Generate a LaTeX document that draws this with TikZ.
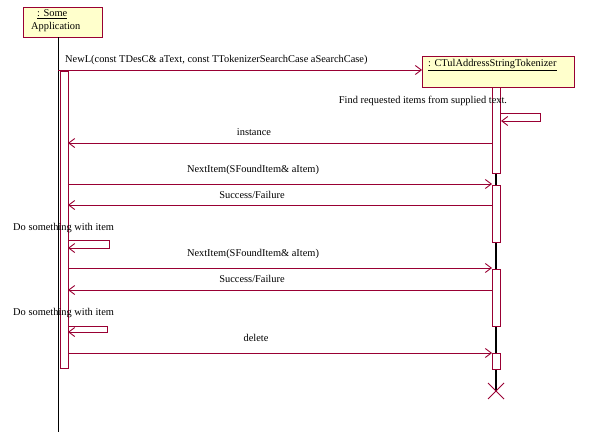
\documentclass[tikz,border=0pt]{standalone}
\usepackage{fontspec}
\setmainfont{Liberation Serif}
\usetikzlibrary{arrows.meta}
\definecolor{uml}{HTML}{990033}
\definecolor{objfill}{HTML}{FFFFCC}
\begin{document}
\begin{tikzpicture}[x=1pt,y=-1pt,
  lbl/.style={font=\fontsize{10.4}{12}\selectfont, inner sep=0pt, text=black},
  objbox/.style={draw=uml, fill=objfill, line width=1pt},
  actbox/.style={draw=uml, fill=white, line width=0.9pt},
  msg/.style={draw=uml, line width=0.9pt, -{Straight Barb[length=6pt,width=9pt]}},
  selfmsg/.style={draw=uml, line width=0.9pt, -{Straight Barb[length=6pt,width=9pt]}},
  lifethin/.style={draw=black, line width=0.9pt},
  lifethick/.style={draw=black, line width=2.5pt}]
\useasboundingbox (0,0) rectangle (611,439);
% objects
\draw[objbox] (23,7) rectangle (102,37);
\node[lbl, anchor=west] (appA) at (37,14) {\underline{: Some}};
\node[lbl, anchor=west] (appB) at (31,27) {Application};
\draw[objbox] (422,56) rectangle (574,87);
\node[lbl, anchor=west] (tok) at (428,65) {\underline{: CTulAddressStringTokenizer}};
% lifelines
\coordinate (appTop) at (58,37);
\coordinate (appBot) at (58,432);
\coordinate (tokTop) at (496,87);
\coordinate (tokBot) at (496,391);
\draw[lifethin] (appTop) -- (appBot);
\draw[lifethick] (tokTop) -- (tokBot);
% activations
\draw[actbox] (60,71) rectangle (68,368);
\draw[actbox] (492,87) rectangle (500,173);
\draw[actbox] (492,185) rectangle (500,242);
\draw[actbox] (492,269) rectangle (500,326);
\draw[actbox] (492,353) rectangle (500,369);
% destroy
\coordinate (x1) at (488,383);
\coordinate (x2) at (504,399);
\coordinate (x3) at (504,383);
\coordinate (x4) at (488,399);
\draw[uml, line width=1pt] (x1) -- (x2) (x3) -- (x4);
% messages
\coordinate (m1s) at (58,70); \coordinate (m1e) at (422,70);
\draw[msg] (m1s) -- (m1e);
\node[lbl, anchor=west] (m1l) at (65,60) {NewL(const TDesC\& aText, const TTokenizerSearchCase aSearchCase)};
\coordinate (s1a) at (500,113); \coordinate (s1b) at (540,113);
\coordinate (s1c) at (540,121); \coordinate (s1d) at (501,121);
\draw[selfmsg] (s1a) -- (s1b) -- (s1c) -- (s1d);
\node[lbl] (s1l) at (423,101) {Find requested items from supplied text.};
\coordinate (m2s) at (492,143); \coordinate (m2e) at (68,143);
\draw[msg] (m2s) -- (m2e);
\node[lbl] (m2l) at (254,132) {instance};
\coordinate (m3s) at (68,184); \coordinate (m3e) at (492,184);
\draw[msg] (m3s) -- (m3e);
\node[lbl] (m3l) at (253,170) {NextItem(SFoundItem\& aItem)};
\coordinate (m4s) at (492,205); \coordinate (m4e) at (68,205);
\draw[msg] (m4s) -- (m4e);
\node[lbl] (m4l) at (252,195) {Success/Failure};
\node[lbl, anchor=west] (s2l) at (13,228) {Do something with item};
\coordinate (s2a) at (68,240); \coordinate (s2b) at (109,240);
\coordinate (s2c) at (109,248); \coordinate (s2d) at (68,248);
\draw[selfmsg] (s2a) -- (s2b) -- (s2c) -- (s2d);
\coordinate (m5s) at (68,268); \coordinate (m5e) at (492,268);
\draw[msg] (m5s) -- (m5e);
\node[lbl] (m5l) at (253,254) {NextItem(SFoundItem\& aItem)};
\coordinate (m6s) at (492,290); \coordinate (m6e) at (68,290);
\draw[msg] (m6s) -- (m6e);
\node[lbl] (m6l) at (252,279) {Success/Failure};
\node[lbl, anchor=west] (s3l) at (13,313) {Do something with item};
\coordinate (s3a) at (68,326); \coordinate (s3b) at (107,326);
\coordinate (s3c) at (107,332); \coordinate (s3d) at (68,332);
\draw[selfmsg] (s3a) -- (s3b) -- (s3c) -- (s3d);
\coordinate (m7s) at (68,353); \coordinate (m7e) at (492,353);
\draw[msg] (m7s) -- (m7e);
\node[lbl] (m7l) at (256,338) {delete};
\end{tikzpicture}
\end{document}
